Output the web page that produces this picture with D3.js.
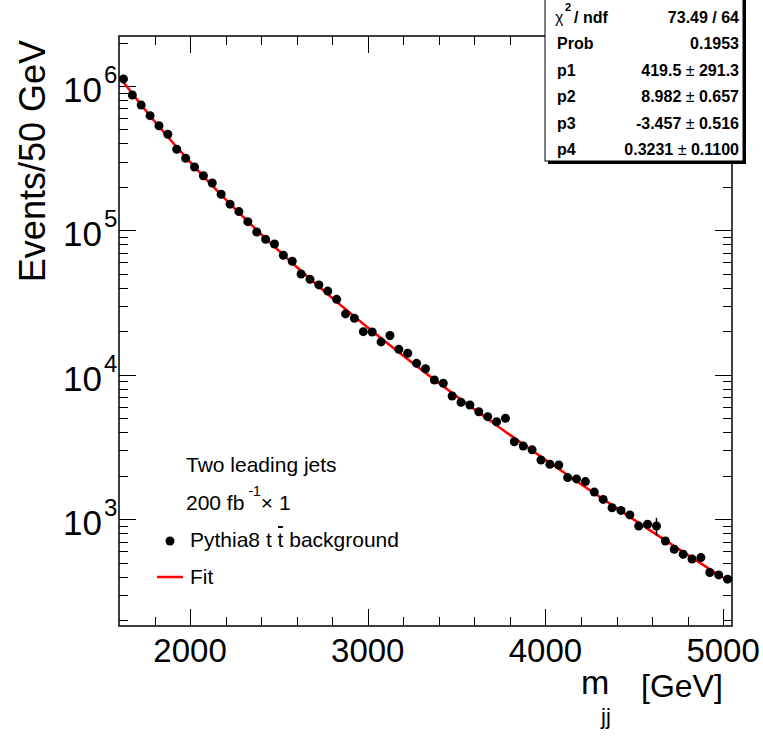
<!DOCTYPE html>
<html lang="en">
<head>
<meta charset="utf-8">
<title>mjj fit</title>
<script src="https://d3js.org/d3.v7.min.js"></script>
<style>
  body { margin: 0; background: #fff; }
  svg { display: block; font-family: "Liberation Sans", Arial, Helvetica, sans-serif; }
  .ticks line { stroke: #000; stroke-width: 1; shape-rendering: crispEdges; }
  .ticks .domain { display: none; }
</style>
</head>
<body>
<div id="chart"></div>
<script>
// bin centres (GeV), 50 GeV bins
const massCenters = [1625, 1675, 1725, 1775, 1825, 1875, 1925, 1975, 2025, 2075,
  2125, 2175, 2225, 2275, 2325, 2375, 2425, 2475, 2525, 2575,
  2625, 2675, 2725, 2775, 2825, 2875, 2925, 2975, 3025, 3075,
  3125, 3175, 3225, 3275, 3325, 3375, 3425, 3475, 3525, 3575,
  3625, 3675, 3725, 3775, 3825, 3875, 3925, 3975, 4025, 4075,
  4125, 4175, 4225, 4275, 4325, 4375, 4425, 4475, 4525, 4575,
  4625, 4675, 4725, 4775, 4825, 4875, 4925, 4975, 5025];
// events per bin
const eventCounts = [1.12e6, 8.66e5, 7.38e5, 6.23e5, 5.31e5, 4.63e5, 3.65e5, 3.16e5, 2.75e5, 2.39e5,
  2.13e5, 1.78e5, 1.52e5, 1.35e5, 1.15e5, 9.75e4, 8.67e4, 8.05e4, 6.73e4, 6.11e4,
  4.99e4, 4.58e4, 4.19e4, 3.80e4, 3.33e4, 2.64e4, 2.46e4, 1.99e4, 1.98e4, 1.69e4,
  1.87e4, 1.50e4, 1.41e4, 1.20e4, 1.10e4, 9200, 8730, 7130, 6440, 6180,
  5550, 5130, 4730, 5000, 3440, 3210, 3020, 2570, 2400, 2370,
  1940, 1900, 1820, 1540, 1370, 1200, 1150, 1070, 897, 922,
  897, 706, 619, 571, 530, 542, 427, 411, 384];
// only this bin has an error bar bigger than the marker
const errorBarMass = [4625];
const errorBarSize = [125];

// red fit curve, sampled every 200 GeV
const fitMass = [1600, 1800, 2000, 2200, 2400, 2600, 2800, 3000, 3200,
  3400, 3600, 3800, 4000, 4200, 4400, 4600, 4800, 5000];
const fitValues = [1.164e6, 5.703e5, 2.980e5, 1.640e5, 9.406e4, 5.580e4, 3.405e4, 2.127e4, 1.355e4,
  8779, 5768, 3836, 2578, 1747, 1193, 819.9, 566.2, 392.6];

const xMajorTicks = [2000, 3000, 4000, 5000];
const yMajorTicks = [1e3, 1e4, 1e5, 1e6];
const yTickExponents = ["3", "4", "5", "6"];

const statsNames = ["Prob", "p1", "p2", "p3", "p4"];
const statsValues = ["0.1953", "419.5", "8.982", "-3.457", "0.3231"];
const statsErrors = ["", "291.3", "0.657", "0.516", "0.1100"];
const chi2Text = "73.49 / 64";

const width = 763;
const height = 737;
const frameLeft = 119, frameRight = 732, frameTop = 36, frameBottom = 626;

const svg = d3.select("#chart")
  .append("svg")
  .attr("width", width)
  .attr("height", height);

svg.append("rect").attr("width", width).attr("height", height).attr("fill", "#fff");

const x = d3.scaleLinear().domain([1600, 5050]).range([frameLeft, frameRight]);
const y = d3.scaleLog().domain([182, 2.22e6]).range([frameBottom, frameTop]);

const xMinor = x.ticks(20).filter(v => v > 1600 && !xMajorTicks.includes(v));
const yMinor = y.ticks().filter(v => !yMajorTicks.includes(v));

// ticks on all four sides, pointing inwards
function addTicks(axisFn, pos, values, size) {
  svg.append("g")
    .attr("class", "ticks")
    .attr("transform", pos)
    .call(axisFn.tickValues(values).tickSize(-size).tickFormat(""));
}
addTicks(d3.axisBottom(x), `translate(0,${frameBottom})`, xMinor, 9);
addTicks(d3.axisBottom(x), `translate(0,${frameBottom})`, xMajorTicks, 17);
addTicks(d3.axisTop(x), `translate(0,${frameTop})`, xMinor, 9);
addTicks(d3.axisTop(x), `translate(0,${frameTop})`, xMajorTicks, 17);
addTicks(d3.axisLeft(y), `translate(${frameLeft},0)`, yMinor, 9);
addTicks(d3.axisLeft(y), `translate(${frameLeft},0)`, yMajorTicks, 17);
addTicks(d3.axisRight(y), `translate(${frameRight},0)`, yMinor, 9);
addTicks(d3.axisRight(y), `translate(${frameRight},0)`, yMajorTicks, 17);

// frame
svg.append("rect")
  .attr("x", frameLeft).attr("y", frameTop)
  .attr("width", frameRight - frameLeft).attr("height", frameBottom - frameTop)
  .attr("fill", "none").attr("stroke", "#000").attr("stroke-width", 1.5);

// x labels
svg.append("g").selectAll("text")
  .data(xMajorTicks)
  .join("text")
  .attr("x", d => x(d))
  .attr("y", 662)
  .attr("text-anchor", "middle")
  .attr("font-size", 33)
  .text(d => d);

// y labels 10^n
const yLab = svg.append("g").selectAll("g")
  .data(yMajorTicks)
  .join("g");
yLab.append("text")
  .attr("x", 102)
  .attr("y", d => y(d) + 16)
  .attr("text-anchor", "end")
  .attr("font-size", 35)
  .text("10");
yLab.append("text")
  .attr("x", 104)
  .attr("y", (d, i) => y(d) - 3)
  .attr("font-size", 24)
  .text((d, i) => yTickExponents[i]);

// axis titles
svg.append("text")
  .attr("transform", "translate(45,40) rotate(-90)")
  .attr("text-anchor", "end")
  .attr("font-size", 36)
  .text("Events/50 GeV");

svg.append("text").attr("x", 581).attr("y", 694).attr("font-size", 34).text("m");
svg.append("text").attr("x", 601).attr("y", 724).attr("font-size", 22).text("jj");
svg.append("text").attr("x", 641).attr("y", 697).attr("font-size", 32).text("[GeV]");

// fit line
const fitData = fitMass.map((m, i) => ({m: m, v: fitValues[i]}));
svg.append("path")
  .datum(fitData)
  .attr("fill", "none")
  .attr("stroke", "#ff0000")
  .attr("stroke-width", 2.5)
  .attr("d", d3.line().x(d => x(d.m)).y(d => y(d.v)).curve(d3.curveMonotoneX));

// error bars that stick out
svg.append("g").selectAll("line")
  .data(errorBarMass)
  .join("line")
  .attr("x1", d => x(d)).attr("x2", d => x(d))
  .attr("y1", (d, i) => y(eventCounts[massCenters.indexOf(d)] + errorBarSize[i]))
  .attr("y2", (d, i) => y(eventCounts[massCenters.indexOf(d)] - errorBarSize[i]))
  .attr("stroke", "#000").attr("stroke-width", 1.5);

// data points
svg.append("g").selectAll("circle")
  .data(massCenters)
  .join("circle")
  .attr("cx", d => x(d))
  .attr("cy", (d, i) => y(eventCounts[i]))
  .attr("r", 4.5)
  .attr("fill", "#000");

// legend
const legend = svg.append("g").attr("font-size", 21);
legend.append("text").attr("x", 186).attr("y", 472).text("Two leading jets");
const lumi = legend.append("text").attr("x", 186).attr("y", 510).text("200 fb");
lumi.append("tspan").attr("font-size", 14).attr("dx", 4).attr("dy", -14).text("-1");
lumi.append("tspan").attr("dy", 14).text("× 1");
legend.append("circle").attr("cx", 170).attr("cy", 541).attr("r", 4.5).attr("fill", "#000");
const pyText = legend.append("text").attr("x", 190).attr("y", 547).text("Pythia8 t t background");
const tStart = pyText.node().getStartPositionOfChar(10).x;
const tEnd = pyText.node().getEndPositionOfChar(10).x;
legend.append("line")
  .attr("x1", tStart + 0.5).attr("x2", tEnd - 0.5)
  .attr("y1", 527).attr("y2", 527)
  .attr("stroke", "#000").attr("stroke-width", 2);
legend.append("line")
  .attr("x1", 157).attr("x2", 183).attr("y1", 577).attr("y2", 577)
  .attr("stroke", "#ff0000").attr("stroke-width", 2.5);
legend.append("text").attr("x", 190).attr("y", 584).text("Fit");

// stats box
const boxX = 545, boxY = -3, boxW = 198, boxH = 164;
svg.append("rect").attr("x", boxX + 3).attr("y", boxY + 3).attr("width", boxW).attr("height", boxH).attr("fill", "#000");
svg.append("rect").attr("x", boxX).attr("y", boxY).attr("width", boxW).attr("height", boxH)
  .attr("fill", "#fff").attr("stroke", "#000").attr("stroke-width", 1);

const stats = svg.append("g").attr("font-size", 16).attr("font-weight", "bold");
const rowBase = [22.5, 49, 75.5, 102, 128.5, 155];
stats.append("text").attr("x", 555).attr("y", rowBase[0]).attr("font-weight", "normal").text("χ");
stats.append("text").attr("x", 565).attr("y", 10.5).attr("font-size", 11).text("2");
stats.append("text").attr("x", 574).attr("y", rowBase[0]).text("/ ndf");
stats.append("text").attr("x", 739).attr("y", rowBase[0]).attr("text-anchor", "end").text(chi2Text);

statsNames.forEach((name, i) => {
  stats.append("text").attr("x", 557).attr("y", rowBase[i + 1]).text(name);
  const val = stats.append("text").attr("x", 739).attr("y", rowBase[i + 1]).attr("text-anchor", "end");
  val.append("tspan").text(statsValues[i]);
  if (statsErrors[i] !== "") {
    val.append("tspan").attr("font-weight", "normal").text(" \u00b1 ");
    val.append("tspan").text(statsErrors[i]);
  }
});
</script>
</body>
</html>
